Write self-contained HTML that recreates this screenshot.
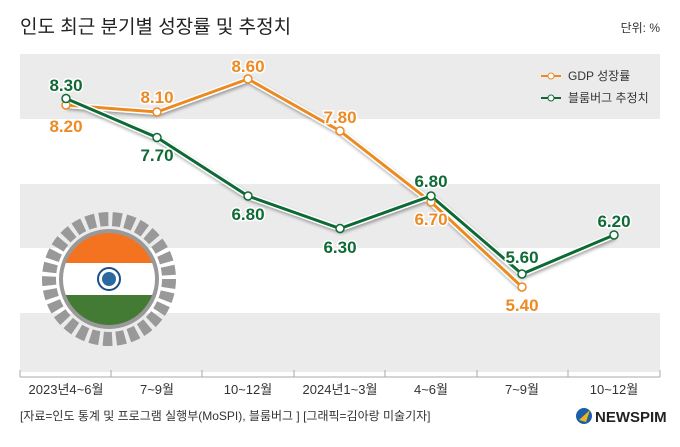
<!DOCTYPE html>
<html><head><meta charset="utf-8"><style>
body{margin:0;background:#fff;}
svg text{font-family:"Liberation Sans","Noto Sans CJK KR",sans-serif;}
</style></head><body>
<svg width="680" height="442" viewBox="0 0 680 442" xmlns="http://www.w3.org/2000/svg">
<defs><filter id="sh" x="-10%" y="-10%" width="120%" height="130%"><feDropShadow dx="1" dy="2" stdDeviation="1.5" flood-color="#000" flood-opacity="0.35"/></filter></defs>
<text x="20" y="33" font-size="19" fill="#222">인도 최근 분기별 성장률 및 추정치</text>
<text x="660" y="32" font-size="12" fill="#333" text-anchor="end">단위: %</text>
<rect x="20" y="54" width="640" height="65" fill="#ebebeb"/>
<rect x="20" y="184" width="640" height="64" fill="#ebebeb"/>
<rect x="20" y="313" width="640" height="59" fill="#ebebeb"/>
<line x1="20" y1="377" x2="660" y2="377" stroke="#aaa"/>
<g stroke="#aaa"><line x1="20" y1="370" x2="20" y2="377"/><line x1="111" y1="370" x2="111" y2="377"/><line x1="202" y1="370" x2="202" y2="377"/><line x1="294" y1="370" x2="294" y2="377"/><line x1="385" y1="370" x2="385" y2="377"/><line x1="477" y1="370" x2="477" y2="377"/><line x1="568" y1="370" x2="568" y2="377"/><line x1="660" y1="370" x2="660" y2="377"/></g>
<g font-size="13" fill="#333" text-anchor="middle">
<text x="66" y="394">2023년4~6월</text><text x="157" y="394">7~9월</text><text x="248" y="394">10~12월</text><text x="340" y="394">2024년1~3월</text><text x="431" y="394">4~6월</text><text x="522" y="394">7~9월</text><text x="614" y="394">10~12월</text>
</g>
<g>
<circle cx="109" cy="279" r="60" fill="none" stroke="#999" stroke-width="14" stroke-dasharray="9 4"/>
<circle cx="109" cy="279" r="50" fill="#999"/>
<clipPath id="fc"><circle cx="109" cy="279" r="46"/></clipPath>
<g clip-path="url(#fc)"><rect x="60" y="230" width="100" height="33" fill="#f47321"/><rect x="60" y="263" width="100" height="32" fill="#fff"/><rect x="60" y="295" width="100" height="40" fill="#437a34"/></g>
<circle cx="109" cy="279" r="11" fill="none" stroke="#1a4e8a" stroke-width="2"/><circle cx="109" cy="279" r="7" fill="#2a6aa0"/>
</g>
<g filter="url(#sh)">
<polyline points="66,105 157,112 248,79 340,131 431,202 522,287" fill="none" stroke="#fff" stroke-width="6"/>
<polyline points="66,105 157,112 248,79 340,131 431,202 522,287" fill="none" stroke="#ec8a23" stroke-width="3"/>
<polyline points="66,98.5 157,137.5 248,196 340,228.5 431,196 522,274 614,235" fill="none" stroke="#fff" stroke-width="6"/>
<polyline points="66,98.5 157,137.5 248,196 340,228.5 431,196 522,274 614,235" fill="none" stroke="#0f6a36" stroke-width="3"/>
</g>
<g fill="#fff" stroke-width="1.5">
<g stroke="#ec8a23"><circle cx="66" cy="105" r="4"/><circle cx="157" cy="112" r="4"/><circle cx="248" cy="79" r="4"/><circle cx="340" cy="131" r="4"/><circle cx="431" cy="202" r="4"/><circle cx="522" cy="287" r="4"/></g>
<g stroke="#0f6a36"><circle cx="66" cy="98.5" r="4"/><circle cx="157" cy="137.5" r="4"/><circle cx="248" cy="196" r="4"/><circle cx="340" cy="228.5" r="4"/><circle cx="431" cy="196" r="4"/><circle cx="522" cy="274" r="4"/><circle cx="614" cy="235" r="4"/></g>
</g>
<g font-size="17" font-weight="bold" text-anchor="middle" stroke="#fff" stroke-width="3" paint-order="stroke">
<g fill="#ec8a23"><text x="66" y="132">8.20</text><text x="157" y="103">8.10</text><text x="248" y="72">8.60</text><text x="340" y="123">7.80</text><text x="431" y="225">6.70</text><text x="522" y="311">5.40</text></g>
<g fill="#0f6a36"><text x="66" y="91">8.30</text><text x="157" y="161">7.70</text><text x="248" y="220">6.80</text><text x="340" y="253">6.30</text><text x="431" y="187">6.80</text><text x="522" y="263">5.60</text><text x="614" y="227">6.20</text></g>
</g>
<g font-size="12" fill="#333">
<line x1="541" y1="76" x2="561" y2="76" stroke="#ec8a23" stroke-width="2"/><circle cx="551" cy="76" r="3" fill="#fff" stroke="#ec8a23"/>
<text x="568" y="80">GDP 성장률</text>
<line x1="541" y1="98" x2="561" y2="98" stroke="#0f6a36" stroke-width="2"/><circle cx="551" cy="98" r="3" fill="#fff" stroke="#0f6a36"/>
<text x="568" y="102">블룸버그 추정치</text>
</g>
<text x="20" y="420" font-size="12" fill="#333">[자료=인도 통계 및 프로그램 실행부(MoSPI), 블룸버그 ] [그래픽=김아랑 미술기자]</text>
<circle cx="584" cy="416" r="8" fill="#1a5fa8"/><path d="M579,420 L590,410 L586,422 Z" fill="#f2b41c"/>
<text x="595" y="422" font-size="15" font-weight="bold" fill="#222">NEWSPIM</text>
</svg>
</body></html>
